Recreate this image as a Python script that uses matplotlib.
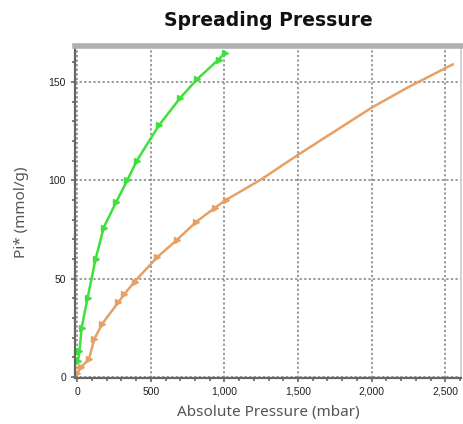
import matplotlib
matplotlib.use("Agg")
import matplotlib.pyplot as plt
from matplotlib.ticker import FuncFormatter, MultipleLocator

# Spreading pressure, two adsorbates
green_p = [5, 15, 30, 70, 125, 180, 265, 340, 405, 555, 700, 815, 960, 1005]
green_pi = [8, 13, 25, 40, 60, 76, 89, 100, 110, 128, 142, 151.5, 161.5, 165]

orange_p = [0, 27, 80, 115, 170, 280, 320, 390, 545, 675, 810, 935, 1010]
orange_pi = [2, 5, 9, 19, 27, 38, 42, 48.5, 61, 69.5, 79, 86, 90]

# fitted curve continuing past the last measured point
fit_p = [1010, 1250, 1500, 1750, 2000, 2250, 2550]
fit_pi = [90, 100.5, 113, 125, 137, 147.5, 159]

green = "#3ee03a"
orange = "#e6a064"

fig = plt.figure(figsize=(4.63, 4.24), dpi=100)
ax = fig.add_axes([0.162, 0.109, 0.834, 0.783])

ax.plot(green_p, green_pi, "-", color=green, lw=1.8, marker=">", ms=5, mec=green)
ax.plot(orange_p + fit_p[1:], orange_pi + fit_pi[1:], "-", color=orange, lw=1.8)
ax.plot(orange_p, orange_pi, ">", color=orange, ms=5)

ax.set_xlim(-15, 2608)
ax.set_ylim(-0.5, 168.5)

ax.xaxis.set_major_locator(MultipleLocator(500))
ax.xaxis.set_minor_locator(MultipleLocator(100))
ax.yaxis.set_major_locator(MultipleLocator(50))
ax.yaxis.set_minor_locator(MultipleLocator(10))
ax.xaxis.set_major_formatter(FuncFormatter(lambda v, _: f"{int(v):,}"))

ax.tick_params(which="both", direction="out", colors="#666666", labelcolor="#222222",
               labelsize=7.5, width=1.2)
ax.tick_params(which="major", length=3)
ax.tick_params(which="minor", length=2.5)
for lbl in ax.get_xticklabels() + ax.get_yticklabels():
    lbl.set_family("Liberation Sans")

ax.grid(True, which="major", ls=(0, (1.5, 1.5)), color="#808080", lw=1.1)
ax.set_axisbelow(True)

for side in ("left", "bottom"):
    ax.spines[side].set_color("#666666")
    ax.spines[side].set_linewidth(1.6)
ax.spines["top"].set_color("#b0b0b0")
ax.spines["top"].set_linewidth(4)
ax.spines["right"].set_color("#cccccc")
ax.spines["right"].set_linewidth(1.2)

ax.set_title("Spreading Pressure", fontsize=13.5, fontweight="bold",
             family="DejaVu Sans", color="#111111", pad=14)
ax.set_xlabel("Absolute Pressure (mbar)", fontsize=11, family="Noto Sans",
              color="#555555", labelpad=6)
ax.set_ylabel("Pi* (mmol/g)", fontsize=11, family="Noto Sans",
              color="#555555", labelpad=14)

fig.savefig("out.png", dpi=100)
